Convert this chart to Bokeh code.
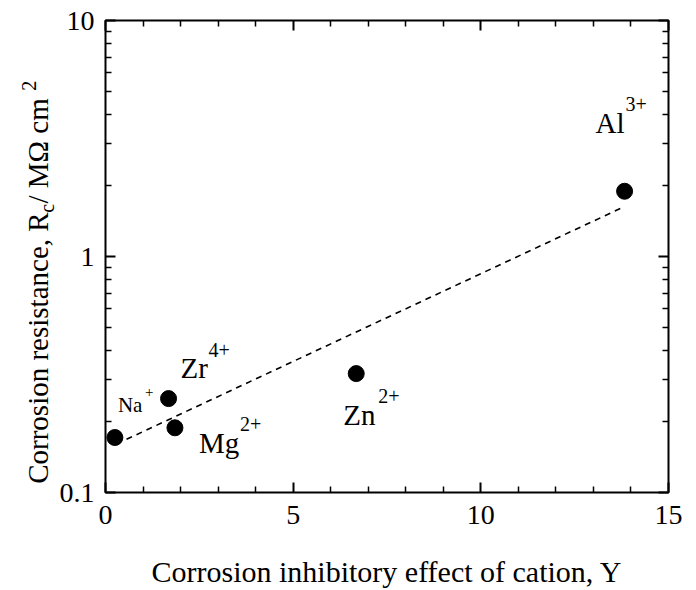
import math
from bokeh.plotting import figure
from bokeh.layouts import row
from bokeh.core.properties import value
from bokeh.models import (Range1d, LinearAxis, LogAxis, FixedTicker,
                          BasicTickFormatter, Label, ColumnDataSource)
from bokeh.embed import file_html
from bokeh.resources import INLINE

# ---- data ----
ions = ["Na", "Zr", "Mg", "Zn", "Al"]
charges = ["+", "4+", "2+", "2+", "3+"]
inhibitory_effect = [0.25, 1.68, 1.85, 6.68, 13.83]
corrosion_resistance = [0.171, 0.250, 0.188, 0.319, 1.89]

fit_x = [0.56, 13.80]
fit_y = [0.168, 1.62]

x_major_ticks = [0, 5, 10, 15]
x_minor_ticks = [1, 2, 3, 4, 6, 7, 8, 9, 11, 12, 13, 14]
y_major_ticks = [0.1, 1, 10]
y_minor_ticks = [0.2, 0.3, 0.4, 0.5, 0.6, 0.7, 0.8, 0.9, 2, 3, 4, 5, 6, 7, 8, 9]

x_title = "Corrosion inhibitory effect of cation, Y"
y_title_parts = ["Corrosion resistance, R", "c", " / M\u03a9 cm", "2"]

FONT = "Liberation Serif"
TOTAL_H = 590
TITLE_W = 56
FRAME_TOP, FRAME_BOTTOM = 20, 493

# label layout (pixel offsets relative to each point): main dx, dy, size, sup dx, dy, size
label_layout = {
    "Na": (3, 33, 21, 30, 46, 15),
    "Zr": (12, 31, 29, 40, 49, 20),
    "Mg": (24, -15, 29, 65, 4, 20),
    "Zn": (-13, -41, 29, 22, -22, 20),
    "Al": (-29, 68, 29, 1, 87, 20),
}

# ---------- narrow panel holding the rotated y-axis title ----------
# its frame is aligned with the main frame, so map the y range to canvas pixels (top-down)
t = figure(width=TITLE_W, height=TOTAL_H, x_range=Range1d(0, TITLE_W),
           y_range=Range1d(FRAME_BOTTOM, FRAME_TOP), x_axis_type=None, y_axis_type=None,
           output_backend="svg", toolbar_location=None, min_border=0)
t.outline_line_color = None
t.grid.visible = False
t.background_fill_color = "white"
t.border_fill_color = "white"

# (font px, centre x px, advance in em) -- pieces are centre-anchored, text runs upward
part_style = [(29, 37, 9.360), (20, 46, 0.444), (29, 37, 3.907), (20, 28, 0.500)]
start = 484.0
for txt, (fs, cx, em) in zip(y_title_parts, part_style):
    length = em * fs
    t.text(x=[cx], y=[start - length / 2], text=[txt], angle=math.pi / 2,
           text_font=value(FONT), text_font_size=f"{fs}px", text_color="black",
           text_baseline="middle", text_align="center")
    start -= length

# ---------- main plot ----------
p = figure(width=696 - TITLE_W, height=TOTAL_H, x_range=Range1d(0, 15),
           y_range=Range1d(0.1, 10), y_axis_type="log",
           output_backend="svg", toolbar_location=None)
p.min_border_left = 104 - TITLE_W
p.min_border_right = 28
p.min_border_top = FRAME_TOP
p.min_border_bottom = TOTAL_H - FRAME_BOTTOM
p.grid.visible = False
p.outline_line_color = "black"
p.outline_line_width = 2
p.background_fill_color = "white"
p.border_fill_color = "white"

xt = FixedTicker(ticks=x_major_ticks, minor_ticks=x_minor_ticks)
yt = FixedTicker(ticks=y_major_ticks, minor_ticks=y_minor_ticks)


def style_axis(ax, show_labels):
    ax.axis_line_color = None
    ax.major_tick_in = 10
    ax.major_tick_out = 0
    ax.minor_tick_in = 6
    ax.minor_tick_out = 0
    ax.major_tick_line_width = 2
    ax.minor_tick_line_width = 1.5
    ax.major_tick_line_color = "black"
    ax.minor_tick_line_color = "black"
    ax.major_label_text_font = FONT
    ax.major_label_text_color = "black"
    if show_labels:
        ax.major_label_text_font_size = "28px"
    else:
        ax.major_label_text_font_size = "1px"
        ax.major_label_text_alpha = 0
        ax.major_label_standoff = 0


xa = p.xaxis[0]
xa.ticker = xt
style_axis(xa, True)
xa.major_label_standoff = 13
xa.axis_label = x_title
xa.axis_label_text_font = FONT
xa.axis_label_text_font_size = "30px"
xa.axis_label_text_font_style = "normal"
xa.axis_label_text_color = "black"
xa.axis_label_standoff = 28

ya = p.yaxis[0]
ya.ticker = yt
ya.formatter = BasicTickFormatter()
style_axis(ya, True)
ya.major_label_standoff = 11

top = LinearAxis(ticker=xt)
style_axis(top, False)
p.add_layout(top, "above")
right = LogAxis(ticker=yt)
style_axis(right, False)
p.add_layout(right, "right")

# fitted trend line
p.line(fit_x, fit_y, line_color="black", line_width=1.6, line_dash="6 5")

# data points
src = ColumnDataSource(dict(x=inhibitory_effect, y=corrosion_resistance))
p.scatter("x", "y", source=src, size=16, fill_color="black", line_color="black")

# point labels with superscript charges
for ion, ch, xv, yv in zip(ions, charges, inhibitory_effect, corrosion_resistance):
    dx, dy, fs, sdx, sdy, sfs = label_layout[ion]
    p.add_layout(Label(x=xv, y=yv, x_offset=dx, y_offset=dy, text=ion,
                       text_font=FONT, text_font_size=f"{fs}px", text_color="black",
                       text_baseline="alphabetic", text_align="left"))
    p.add_layout(Label(x=xv, y=yv, x_offset=sdx, y_offset=sdy, text=ch,
                       text_font=FONT, text_font_size=f"{sfs}px", text_color="black",
                       text_baseline="alphabetic", text_align="left"))

layout = row(t, p, spacing=0)
open("out.html", "w").write(file_html(layout, INLINE))
